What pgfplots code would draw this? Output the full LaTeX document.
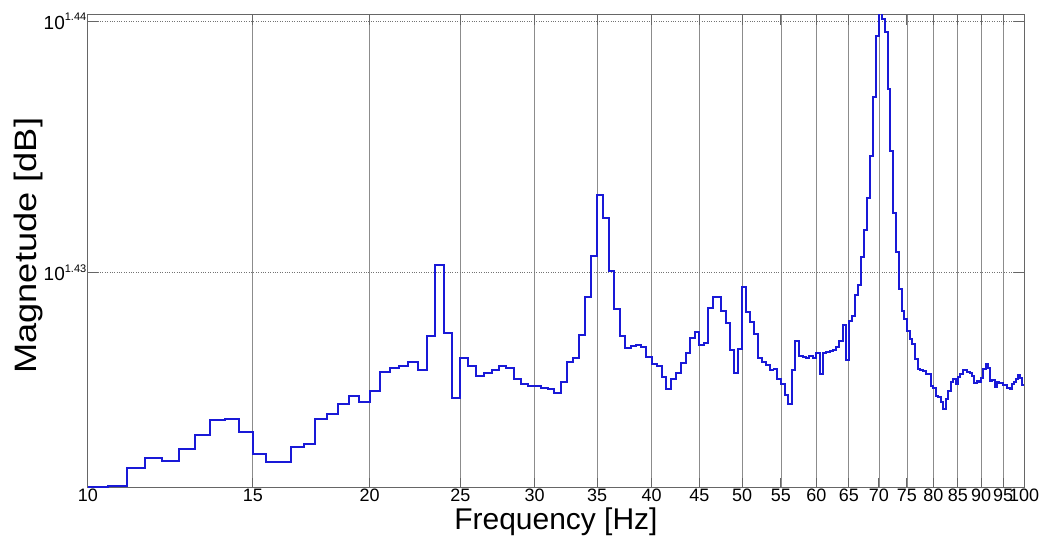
\documentclass[border=0pt]{standalone}
\usepackage{pgfplots}
\pgfplotsset{compat=1.18}
\usepackage{pgfplotstable}
\usepackage{fontspec}
\setmainfont{Liberation Sans}
\definecolor{lineblue}{RGB}{25,25,215}
\pgfplotstableread{
f v
10.0 26.3910
10.5 26.3934
11.0 26.4370
11.5 26.4612
12.0 26.4540
12.5 26.4831
13.0 26.5171
13.5 26.5537
14.0 26.5560
14.5 26.5243
15.0 26.4709
15.5 26.4515
16.0 26.4515
16.5 26.4879
17.0 26.4952
17.5 26.5560
18.0 26.5681
18.5 26.5925
19.0 26.6120
19.5 26.5973
20.0 26.6241
20.5 26.6706
21.0 26.6803
21.5 26.6852
22.0 26.6950
22.5 26.6754
23.0 26.7587
23.5 26.9333
24.0 26.7660
24.5 26.6071
25.0 26.7048
25.5 26.6852
26.0 26.6608
26.5 26.6681
27.0 26.6754
27.5 26.6852
28.0 26.6803
28.5 26.6535
29.0 26.6412
29.5 26.6364
30.0 26.6364
30.5 26.6315
31.0 26.6290
31.5 26.6193
32.0 26.6461
32.5 26.6950
33.0 26.7048
33.5 26.7611
34.0 26.8545
34.5 26.9555
35.0 27.1066
35.5 27.0495
36.0 26.9185
36.5 26.8250
37.0 26.7587
37.5 26.7293
38.0 26.7342
38.5 26.7366
39.0 26.7317
39.5 26.7072
40.0 26.6901
40.5 26.6852
41.0 26.6583
41.5 26.6290
42.0 26.6535
42.5 26.6681
43.0 26.6926
43.5 26.7170
44.0 26.7538
44.5 26.7685
45.0 26.7366
45.5 26.7415
46.0 26.8274
46.5 26.8545
47.0 26.8545
47.5 26.8200
48.0 26.7906
48.5 26.7244
49.0 26.6681
49.5 26.7268
50.0 26.8791
50.5 26.8176
51.0 26.7930
51.5 26.7636
52.0 26.7048
52.5 26.6950
53.0 26.6877
53.5 26.6754
54.0 26.6779
54.5 26.6535
55.0 26.6412
55.5 26.6144
56.0 26.5925
56.5 26.6754
57.0 26.7464
57.5 26.7097
58.0 26.7072
58.5 26.7048
59.0 26.7097
59.5 26.7048
60.0 26.7170
60.5 26.6657
61.0 26.7170
61.5 26.7195
62.0 26.7219
62.5 26.7244
63.0 26.7317
63.5 26.7464
64.0 26.7856
64.5 26.6999
65.0 26.7955
65.5 26.8078
66.0 26.8594
66.5 26.8840
67.0 26.9531
67.5 27.0198
68.0 27.0992
68.5 27.2037
69.0 27.3511
69.5 27.5019
70.0 27.5599
70.5 27.5447
71.0 27.5145
71.5 27.3712
72.0 27.2136
72.5 27.0620
73.0 26.9654
73.5 26.8742
74.0 26.8200
74.5 26.8004
75.0 26.7709
75.5 26.7513
76.0 26.7391
76.5 26.7023
77.0 26.6779
77.5 26.6754
78.0 26.6730
78.5 26.6657
79.0 26.6657
79.5 26.6364
80.0 26.6315
80.5 26.6120
81.0 26.6095
81.5 26.5973
82.0 26.5803
82.5 26.6046
83.0 26.6241
83.5 26.6461
84.0 26.6535
84.5 26.6412
85.0 26.6583
85.5 26.6657
86.0 26.6754
86.5 26.6754
87.0 26.6706
87.5 26.6681
88.0 26.6608
88.5 26.6437
89.0 26.6486
89.5 26.6461
90.0 26.6559
90.5 26.6779
91.0 26.6901
91.5 26.6803
92.0 26.6486
92.5 26.6510
93.0 26.6339
93.5 26.6461
94.0 26.6437
94.5 26.6437
95.0 26.6388
95.5 26.6388
96.0 26.6315
96.5 26.6290
97.0 26.6412
97.5 26.6461
98.0 26.6535
98.5 26.6632
99.0 26.6559
99.5 26.6388
100.0 26.6388
}\spec
\begin{document}
\begin{tikzpicture}
\begin{axis}[
  at={(0pt,0pt)}, anchor=south west,
  scale only axis, width=937pt, height=473pt,
  xmode=log,
  y coord trafo/.code={\pgfmathparse{log10(#1)}},
  xmin=10, xmax=100, ymin=26.3910, ymax=27.5599,
  xtick={10,15,20,25,30,35,40,45,50,55,60,65,70,75,80,85,90,95,100},
  xticklabels={10,15,20,25,30,35,40,45,50,55,60,65,70,75,80,85,90,95,100},
  minor xtick={}, minor ytick={},
  ytick={26.9153,27.5423},
  yticklabels={10{\fontsize{11}{11}\selectfont\raisebox{8.5pt}{1.43}},10{\fontsize{11}{11}\selectfont\raisebox{8.5pt}{1.44}}},
  tick align=inside, major tick length=10pt,
  xmajorgrids, ymajorgrids,
  x grid style={black!45, line width=0.9pt},
  y grid style={black!55, dotted, line width=0.8pt},
  axis line style={black!60, line width=1pt},
  tick style={black!60, line width=1pt},
  xticklabel style={font=\fontsize{18}{18}\selectfont, inner sep=1pt},
  yticklabel style={font=\fontsize{19}{19}\selectfont, inner sep=1.5pt},
  xlabel={Frequency [Hz]}, ylabel={\scalebox{1.17}[1]{Magnetude [dB]}},
  xlabel style={at={(axis description cs:0.5,-0.0719)}, anchor=center, font=\fontsize{30}{30}\selectfont},
  ylabel style={at={(axis description cs:-0.0635,0.5116)}, anchor=center, font=\fontsize{31}{31}\selectfont},
]
\addplot[const plot, lineblue, line width=2pt] table[x=f,y=v]{\spec};
\end{axis}
\path (-88pt,-55pt) rectangle (952pt,488pt);
\end{tikzpicture}
\end{document}
